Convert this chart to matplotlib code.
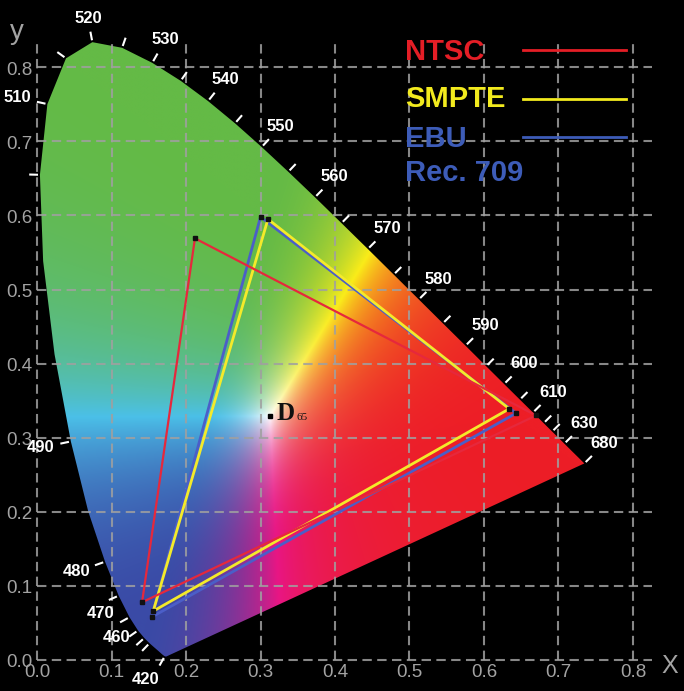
"""
CIE 1931 chromaticity diagram with NTSC, SMPTE and EBU / Rec. 709 gamuts
"""
import matplotlib
matplotlib.use('Agg')
import matplotlib.pyplot as plt
from matplotlib.patches import Polygon
import numpy as np

# spectral locus, CIE 1931 2 deg observer
wl = [380, 390, 400, 410, 415, 420, 425, 430, 435, 440, 445, 450, 455, 460,
      465, 470, 475, 480, 485, 490, 495, 500, 505, 510, 515, 520, 525, 530,
      535, 540, 545, 550, 555, 560, 565, 570, 575, 580, 585, 590, 595, 600,
      605, 610, 615, 620, 625, 630, 635, 640, 650, 660, 670, 675, 680]
loc_x = [0.1741, 0.1738, 0.1733, 0.1726, 0.1721, 0.1714, 0.1703, 0.1689,
         0.1669, 0.1644, 0.1611, 0.1566, 0.1510, 0.1440, 0.1355, 0.1241,
         0.1096, 0.0913, 0.0687, 0.0454, 0.0235, 0.0082, 0.0039, 0.0139,
         0.0389, 0.0743, 0.1142, 0.1547, 0.1929, 0.2296, 0.2658, 0.3016,
         0.3373, 0.3731, 0.4087, 0.4441, 0.4788, 0.5125, 0.5448, 0.5752,
         0.6029, 0.6270, 0.6482, 0.6658, 0.6801, 0.6915, 0.7006, 0.7079,
         0.7140, 0.7190, 0.7260, 0.7300, 0.7320, 0.7327, 0.7347]
loc_y = [0.0050, 0.0049, 0.0048, 0.0048, 0.0048, 0.0051, 0.0058, 0.0069,
         0.0086, 0.0109, 0.0138, 0.0177, 0.0227, 0.0297, 0.0399, 0.0578,
         0.0868, 0.1327, 0.2007, 0.2950, 0.4127, 0.5384, 0.6548, 0.7502,
         0.8120, 0.8338, 0.8262, 0.8059, 0.7816, 0.7543, 0.7243, 0.6923,
         0.6589, 0.6245, 0.5896, 0.5547, 0.5202, 0.4866, 0.4544, 0.4242,
         0.3965, 0.3725, 0.3514, 0.3340, 0.3197, 0.3083, 0.2993, 0.2920,
         0.2859, 0.2809, 0.2740, 0.2700, 0.2680, 0.2673, 0.2653]

label_wl = [420, 460, 470, 480, 490, 510, 520, 530, 540, 550, 560, 570, 580,
            590, 600, 610, 630, 680]
tick_wl = [420, 455, 460, 465, 470, 475, 480, 490, 505, 510, 515, 520, 525,
           530, 535, 540, 545, 550, 555, 560, 565, 570, 575, 580, 585, 590,
           595, 600, 605, 610, 615, 620, 630, 680]

# gamut primaries (R, G, B) as drawn
ntsc_x = [0.670, 0.212, 0.141]
ntsc_y = [0.330, 0.569, 0.078]
smpte_x = [0.634, 0.310, 0.156]
smpte_y = [0.339, 0.595, 0.066]
ebu_x = [0.643, 0.300, 0.154]
ebu_y = [0.333, 0.598, 0.058]
d65_x, d65_y = 0.3127, 0.3290

grid_vals = [0.0, 0.1, 0.2, 0.3, 0.4, 0.5, 0.6, 0.7, 0.8]

# printed look of the rgb cube corners
corner = {
    'k': (0, 0, 0), 'r': (237, 30, 38), 'g': (100, 186, 70),
    'b': (58, 74, 166), 'c': (75, 192, 232), 'm': (232, 22, 132),
    'y': (250, 236, 25), 'w': (255, 255, 255),
}


def xy_colors(xx, yy):
    yy = np.maximum(yy, 1e-4)
    X = xx / yy
    Z = (1 - xx - yy) / yy
    Y = np.ones_like(xx)
    r = 3.2406 * X - 1.5372 * Y - 0.4986 * Z
    g = -0.9689 * X + 1.8758 * Y + 0.0415 * Z
    b = 0.0557 * X - 0.2040 * Y + 1.0570 * Z
    rgb = np.clip(np.stack([r, g, b], axis=-1), 0, None)
    rgb = rgb / np.maximum(rgb.max(axis=-1, keepdims=True), 1e-6)
    rgb = rgb ** 1.7
    r, g, b = rgb[..., 0:1], rgb[..., 1:2], rgb[..., 2:3]
    c = {k: np.array(v) / 255 for k, v in corner.items()}
    out = ((1 - r) * (1 - g) * (1 - b) * c['k'] + r * (1 - g) * (1 - b) * c['r']
           + (1 - r) * g * (1 - b) * c['g'] + (1 - r) * (1 - g) * b * c['b']
           + r * g * (1 - b) * c['y'] + r * (1 - g) * b * c['m']
           + (1 - r) * g * b * c['c'] + r * g * b * c['w'])
    return np.clip(out, 0, 1)


fig = plt.figure(figsize=(6.84, 6.91), dpi=100, facecolor='black')
ax = fig.add_axes([0, 0, 1, 1])
ax.axis('off')

# coloured horseshoe
gx, gy = np.meshgrid(np.linspace(0, 0.75, 800), np.linspace(0, 0.85, 900))
img = xy_colors(gx, gy)
locus = Polygon(np.column_stack([loc_x, loc_y]), closed=True,
                facecolor='none', edgecolor='none')
ax.add_patch(locus)
im = ax.imshow(img, extent=(0, 0.75, 0, 0.85), origin='lower',
               interpolation='bilinear', zorder=1)
im.set_clip_path(locus)
ax.set_xlim(-0.0497, 0.8685)
ax.set_ylim(-0.0418, 0.8907)
ax.set_aspect('auto')

# dashed grid
dash = (0, (4.5, 2.6))
ax.vlines(grid_vals, 0, 0.833, colors='#a0a0a0', linestyles=dash, lw=1.5,
          alpha=0.85, zorder=2)
ax.hlines(grid_vals, 0, 0.826, colors='#a0a0a0', linestyles=dash, lw=1.5,
          alpha=0.85, zorder=2)

tick_font = ['Liberation Sans', 'DejaVu Sans']
for v in grid_vals:
    ax.text(v, -0.0175, '%.1f' % v, color='#a3a3a3', fontsize=13.5,
            family=tick_font, ha='center', va='center', zorder=3)
    ax.text(-0.0065, v - 0.004, '%.1f' % v, color='#a3a3a3', fontsize=13.5,
            family=tick_font, ha='right', va='center', zorder=3)
ax.text(-0.027, 0.848, 'y', color='#a3a3a3', fontsize=20, family=tick_font,
        ha='center', va='center')
ax.text(0.85, -0.008, 'X', color='#a3a3a3', fontsize=18, family=tick_font,
        ha='center', va='center')

# wavelength ticks and labels on the locus
pts = np.column_stack([loc_x, loc_y])


def normal_at(w):
    i = wl.index(w)
    a = pts[max(i - 1, 0)]
    b = pts[min(i + 1, len(pts) - 1)]
    d = b - a
    n = np.array([-d[1], d[0]])
    return n / np.hypot(*n)


for w in tick_wl:
    p = pts[wl.index(w)]
    n = normal_at(w)
    seg = np.array([p + n * 0.004, p + n * 0.013])
    ax.plot(seg[:, 0], seg[:, 1], color='white', lw=1.5, zorder=4)

nudge = {460: (-6, 20), 470: (-3, 18), 420: (-6, 0)}
for w in label_wl:
    p = pts[wl.index(w)]
    n = normal_at(w)
    dist = 22 + 9 * abs(n[0])
    off = n * dist + np.array(nudge.get(w, (0, 0)))
    ax.annotate(str(w), xy=p, xytext=off, textcoords='offset pixels',
                ha='center', va='center', color='white', fontsize=12,
                fontweight='bold', family=tick_font, zorder=5)

# gamut triangles
ax.fill(ebu_x, ebu_y, fill=False, edgecolor='#4b5ec8', lw=2.0, zorder=6)
ax.fill(smpte_x, smpte_y, fill=False, edgecolor='#f4ea2a', lw=2.0, zorder=7)
ax.fill(ntsc_x, ntsc_y, fill=False, edgecolor='#e6283c', lw=1.6, zorder=8)
for xs, ys in [(ntsc_x, ntsc_y), (smpte_x, smpte_y), (ebu_x, ebu_y)]:
    ax.plot(xs, ys, 's', color='#111111', ms=2.5, zorder=9)

# white point
ax.plot(d65_x, d65_y, 's', color='black', ms=3.5, zorder=9)
ax.annotate('D', xy=(d65_x, d65_y), xytext=(7, -4), textcoords='offset pixels',
            ha='left', va='baseline', fontsize=18, fontweight='bold',
            family=['Liberation Serif', 'DejaVu Serif'], color='#111111',
            zorder=9)
ax.annotate('65', xy=(d65_x, d65_y), xytext=(27, -4), textcoords='offset pixels',
            ha='left', va='baseline', fontsize=8,
            family=['Liberation Serif', 'DejaVu Serif'], color='#111111',
            zorder=9)

# legend
leg_font = ['Liberation Sans', 'DejaVu Sans']
legend = [('NTSC', '#e41e26', 0.8205, 0.823),
          ('SMPTE', '#f2ea1e', 0.757, 0.757),
          ('EBU', '#3d5cb8', 0.703, 0.706)]
for name, col, ty, ly in legend:
    ax.text(0.494, ty, name, color=col, fontsize=21, fontweight='bold',
            family=leg_font, ha='left', va='center')
    ax.plot([0.652, 0.791], [ly, ly], color=col, lw=2.0)
ax.text(0.494, 0.657, 'Rec. 709', color='#3d5cb8', fontsize=21,
        fontweight='bold', family=leg_font, ha='left', va='center')

fig.savefig('out.png', dpi=100, facecolor='black')
